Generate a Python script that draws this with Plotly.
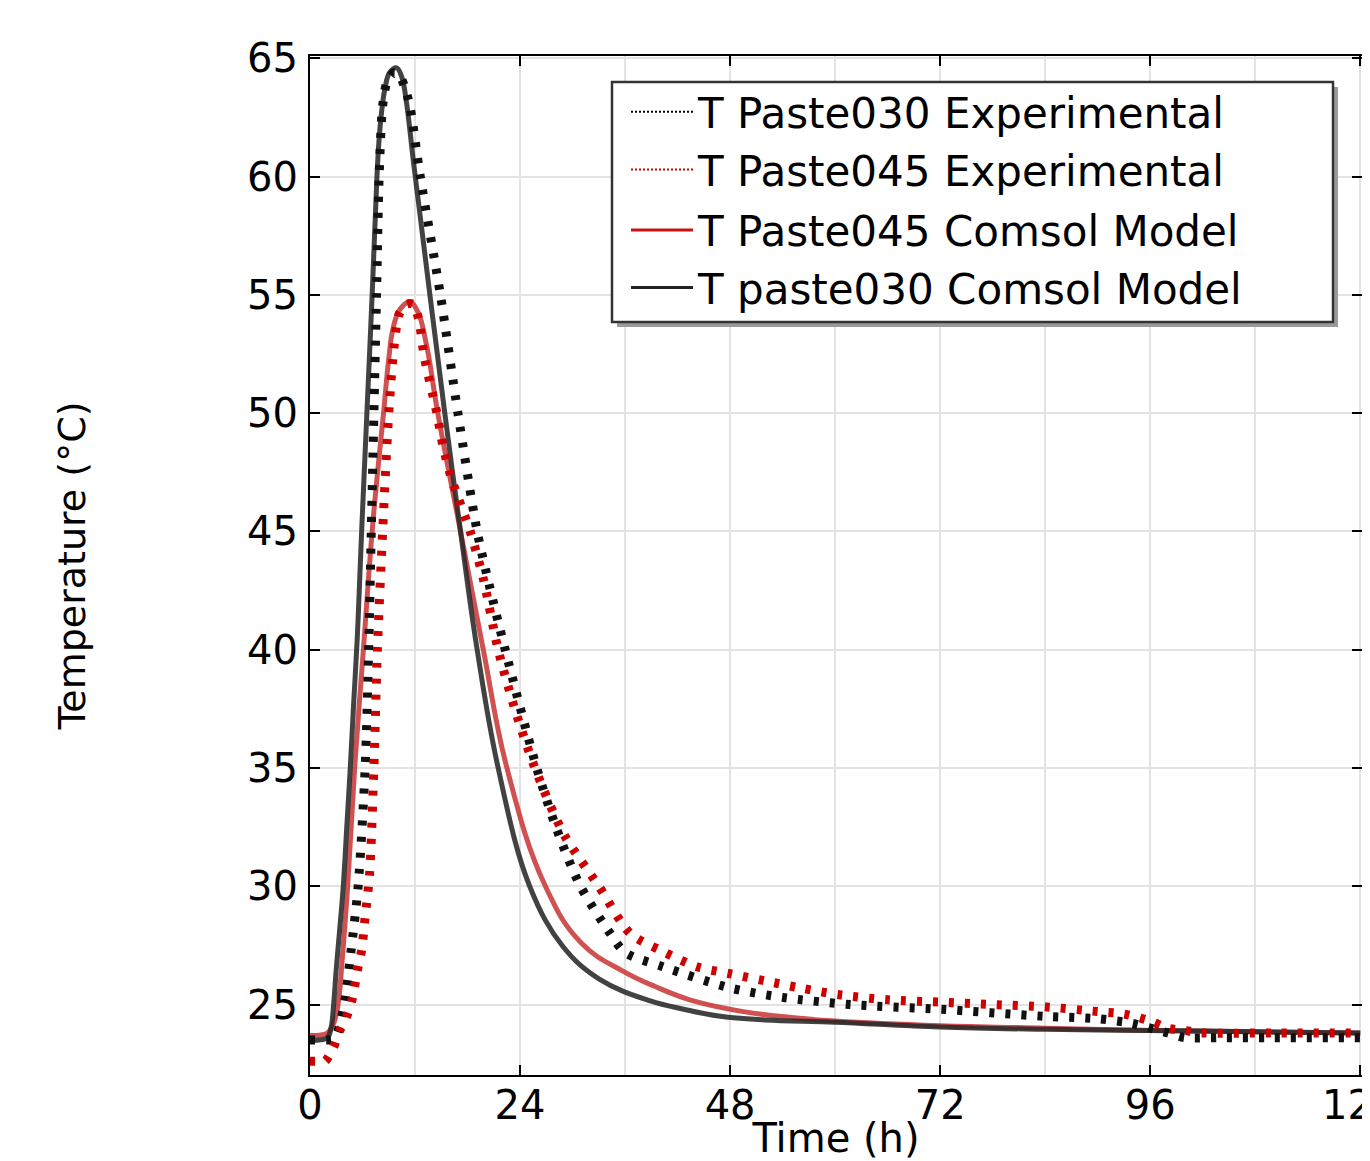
import plotly.graph_objects as go

# ---------------- data ----------------
t_model030 = [0, 1, 2, 2.4, 2.7, 3.0, 3.4, 3.8, 4.2, 4.6, 5.0, 5.4, 5.9, 6.5, 7.1, 7.65,
              7.9, 8.2, 8.6, 9.1, 9.9, 10.5, 11.0, 11.8, 12.7, 13.7, 15.4, 17.2, 19.1,
              21.5, 25.1, 28.9, 33.1, 38.9, 42.7, 46.9, 52, 60,
              72, 84, 96, 108, 120]
T_model030 = [23.5, 23.5, 23.6, 24.0, 25.0, 26.5, 28.2, 30.0, 32.5, 35.0, 37.8, 40.5, 45.0,
              50.0, 55.0, 60.0, 61.6, 62.8, 63.8, 64.4, 64.6, 64.2, 63.2, 60.7, 58.0, 55.0,
              50.0, 45.0, 40.0, 35.0, 30.0, 27.45, 26.06, 25.15, 24.8,
              24.5, 24.35, 24.25, 24.05, 23.95, 23.9, 23.85, 23.8]

t_model045 = [0, 1, 2, 2.7, 3.2, 3.7, 4.3, 5.1, 6.1, 7.1, 7.8, 8.4, 9.0, 9.5, 10.3, 11.4,
              12.3, 13.3, 14.6, 17.2, 19.8, 22.5, 26.9, 31.0, 35.8,
              39.5, 43.4, 49.5, 55, 60, 72, 84, 96, 120]
T_model045 = [23.7, 23.7, 23.8, 24.2, 25.0, 27.0, 30.0, 35.0, 40.0, 45.0, 47.8, 50.0, 52.3,
              53.6, 54.4, 54.7, 54.3, 52.9, 50.0, 45.0, 40.0, 35.0, 30.0,
              27.6, 26.4, 25.75, 25.2, 24.7, 24.45, 24.3, 24.1, 24.0, 23.9, 23.8]

t_exp030 = [0, 1, 2, 2.5, 3.0, 3.5, 4.0, 4.7, 5.5, 6.3, 6.7, 7.0, 7.3, 7.6, 7.9, 8.3, 8.8,
            9.6, 10.2, 10.8, 11.4, 12.6, 14.9, 16.9, 19.1, 20.5, 22.3, 25.9,
            28.2, 30.9, 34.3, 36.0, 40.3, 48, 54, 61.7, 72, 84, 90, 94, 96, 98, 100, 104,
            110, 120]
T_exp030 = [23.5, 23.5, 23.5, 23.5, 23.7, 24.3, 25.2, 27.3, 30.0, 35.0, 40.0, 45.0, 50.0,
            55.0, 60.0, 63.0, 64.0, 64.4, 64.3, 63.8, 63.0, 60.0, 55.0, 50.0, 45.0,
            42.7, 40.0, 35.0, 32.4, 30.0, 28.0, 27.2, 26.6, 25.7, 25.3, 25.0, 24.8,
            24.5, 24.4, 24.2, 24.0, 23.8, 23.6, 23.6, 23.6, 23.6]

t_exp045 = [0, 1, 1.7, 2.7, 3.4, 4.2, 4.8, 5.5, 5.9, 6.3, 6.8, 7.3, 7.7, 8.3, 9.0, 9.6,
            10.2, 11.0, 11.8, 12.4, 13.1, 14.5, 15.2, 16.2, 18.3, 19.8, 21.5,
            23.4, 25.7, 29.0, 33.0, 36.6, 40.0, 44.2, 48, 52, 56, 60.7, 66, 72,
            78, 84, 90, 93, 96, 98, 100, 102, 110, 120]
T_exp045 = [22.6, 22.6, 22.6, 23.2, 23.9, 24.5, 25.2, 26.6, 27.3, 28.7, 30.5, 35.0, 40.0,
            45.0, 50.0, 52.8, 54.2, 54.6, 54.6, 54.0, 52.3, 50.0, 48.6, 47.2, 45.0,
            43.0, 40.0, 37.5, 35.0, 32.2, 30.0, 28.0, 27.3, 26.6, 26.3,
            26.0, 25.7, 25.4, 25.2, 25.1, 25.0, 24.9, 24.7, 24.6, 24.3, 24.0, 23.9, 23.8,
            23.8, 23.8]

x_ticks = [0, 24, 48, 72, 96, 120]
y_ticks = [25, 30, 35, 40, 45, 50, 55, 60, 65]

names = ["T Paste030 Experimental", "T Paste045 Experimental",
         "T Paste045 Comsol Model", "T paste030 Comsol Model"]

# ---------------- styles ----------------
FONT = "DejaVu Sans"
C_EXP030 = "#111111"
C_EXP045 = "#d00000"
C_MOD045 = "rgba(200,50,50,0.85)"
C_MOD030 = "rgba(40,40,40,0.88)"

# screen geometry (page has an 8px body margin)
W, H = 1362, 1153
ML, MR, MT, MB = 302, 8, 48, 86
PX0, PX1, PY0, PY1 = 310, 1362, 56, 1075   # plot area in screen px


def px_to_paper_x(px):
    return (px - PX0) / (PX1 - PX0)


def px_to_paper_y(py):
    return (PY1 - py) / (PY1 - PY0)


fig = go.Figure()

# model lines (solid)
fig.add_trace(go.Scatter(x=t_model045, y=T_model045, mode="lines",
                         line=dict(color=C_MOD045, width=5, shape="spline", smoothing=1.2),
                         showlegend=False, hoverinfo="skip"))
fig.add_trace(go.Scatter(x=t_model030, y=T_model030, mode="lines",
                         line=dict(color=C_MOD030, width=5, shape="spline", smoothing=1.1),
                         showlegend=False, hoverinfo="skip"))
# experimental lines (thick dotted)
fig.add_trace(go.Scatter(x=t_exp030, y=T_exp030, mode="lines",
                         line=dict(color=C_EXP030, width=9, dash="5px,11px", shape="spline", smoothing=0.8),
                         showlegend=False, hoverinfo="skip"))
fig.add_trace(go.Scatter(x=t_exp045, y=T_exp045, mode="lines",
                         line=dict(color=C_EXP045, width=9, dash="5px,11px", shape="spline", smoothing=0.8),
                         showlegend=False, hoverinfo="skip"))

# legend entries
leg_styles = [
    dict(color="#000000", width=2, dash="2px,2px"),
    dict(color="#d00000", width=2, dash="2px,2px"),
    dict(color="#cc1111", width=3),
    dict(color="#222222", width=3),
]
groups = ["a", "a", "b", "b"]
for nm, ls, g in zip(names, leg_styles, groups):
    fig.add_trace(go.Scatter(x=[None], y=[None], mode="lines", name=nm, line=ls,
                             legendgroup=g))

# legend frame + drop shadow
BX0, BX1, BY0, BY1 = 612, 1333, 82, 322
shapes = [
    dict(type="rect", xref="paper", yref="paper", layer="above",
         x0=px_to_paper_x(BX0 + 5), x1=px_to_paper_x(BX1 + 5),
         y0=px_to_paper_y(BY1 + 5), y1=px_to_paper_y(BY0 + 5),
         fillcolor="#9a9a9a", line=dict(width=0)),
    dict(type="rect", xref="paper", yref="paper", layer="above",
         x0=px_to_paper_x(BX0), x1=px_to_paper_x(BX1),
         y0=px_to_paper_y(BY1), y1=px_to_paper_y(BY0),
         fillcolor="white", line=dict(color="#333333", width=2.5)),
]

fig.update_layout(
    width=W, height=H,
    margin=dict(l=ML, r=MR, t=MT, b=MB, autoexpand=False),
    paper_bgcolor="white", plot_bgcolor="white",
    font=dict(family=FONT, size=40, color="black"),
    showlegend=True,
    shapes=shapes,
    legend=dict(x=px_to_paper_x(626), y=px_to_paper_y(78), xanchor="left", yanchor="top",
                bgcolor="rgba(0,0,0,0)", borderwidth=0,
                font=dict(family=FONT, size=42, color="black"),
                itemwidth=62, tracegroupgap=3, traceorder="grouped",
                itemclick=False, itemdoubleclick=False),
    xaxis=dict(range=[0, 120.2], tickvals=x_ticks, ticktext=[str(v) for v in x_ticks],
               automargin=False,
               showgrid=True, gridcolor="#e3e3e3", gridwidth=2,
               minor=dict(dtick=12, tick0=0, showgrid=True, gridcolor="#e3e3e3", gridwidth=2, ticks=""),
               ticks="inside", ticklen=10, tickwidth=2, tickcolor="black",
               showline=True, linecolor="black", linewidth=2, mirror="ticks",
               zeroline=False, ticklabelstandoff=-6, ticklabeloverflow="allow",
               title=dict(text="Time (h)", font=dict(family=FONT, size=40), standoff=21)),
    yaxis=dict(range=[22.02, 65.1], tickvals=y_ticks, ticktext=[str(v) for v in y_ticks],
               automargin=False,
               showgrid=True, gridcolor="#e3e3e3", gridwidth=2,
               ticks="inside", ticklen=10, tickwidth=2, tickcolor="black",
               showline=True, linecolor="black", linewidth=2, mirror="ticks",
               zeroline=False, ticklabelstandoff=2,
               title=dict(text="Temperature (°C)", font=dict(family=FONT, size=38), standoff=150)),
)

fig.write_html("out.html")
